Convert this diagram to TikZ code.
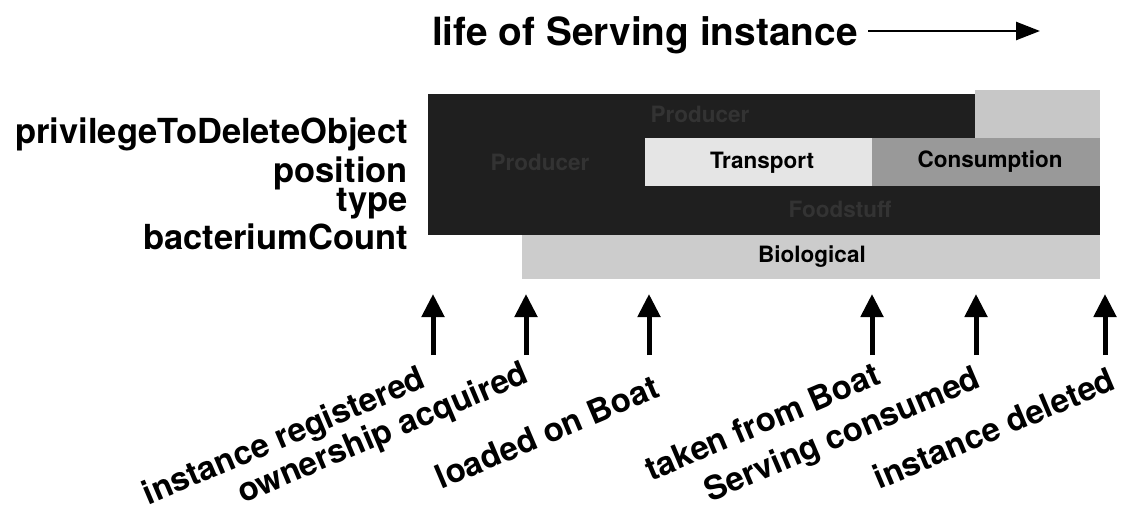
\documentclass[tikz,border=0pt]{standalone}
\usepackage{fontspec}
\setmainfont{TeX Gyre Heros}
\usetikzlibrary{arrows.meta}

\tikzset{
  rowlabel/.style={anchor=base east, inner sep=0pt, font=\fontsize{34.5}{40}\selectfont\bfseries},
  bandlabel/.style={inner sep=0pt, font=\fontsize{22.5}{26}\selectfont\bfseries},
  faintlabel/.style={bandlabel, text=black!80},
  eventlabel/.style={anchor=north east, inner sep=0pt, rotate=23, font=\fontsize{33}{38}\selectfont\bfseries},
  eventarrow/.style={line width=5pt, -{Triangle[length=23pt,width=22pt]}},
  darkband/.style={fill=black!88},
}

\begin{document}
\begin{tikzpicture}[x=1pt,y=-1pt]
      \useasboundingbox (0,0) rectangle (1121,514);
      % title with time arrow
      \node[anchor=base west, inner sep=0pt, font=\fontsize{38.8}{44}\selectfont\bfseries]
        (title) at (432,45) {life of Serving instance};
      \coordinate (t0) at (868,31);
      \coordinate (t1) at (1040,31);
      \draw[line width=2.5pt, -{Triangle[length=24pt,width=18pt]}] (t0) -- (t1);
      % bands
      \fill[darkband] (428,94) rectangle (975,138);
      \fill[black!22] (975,90) rectangle (1100,138);
      \fill[darkband] (428,138) rectangle (645,235);
      \fill[black!10] (645,138) rectangle (872,186);
      \fill[black!40] (872,138) rectangle (1100,186);
      \fill[darkband] (645,186) rectangle (1100,235);
      \fill[black!20] (522,235) rectangle (1100,279);
      \node[faintlabel] (prodtop) at (700,114) {Producer};
      \node[faintlabel] (prodleft) at (540,162) {Producer};
      \node[faintlabel] (food) at (840,209) {Foodstuff};
      \node[bandlabel] (transport) at (762,163) {Transport};
      \node[bandlabel] (consumption) at (990,162) {Consumption};
      \node[bandlabel] (biological) at (812,257) {Biological};
      % attribute names
      \node[rowlabel] (priv) at (408,143) {privilegeToDeleteObject};
      \node[rowlabel] (pos) at (408,182) {position};
      \node[rowlabel] (type) at (408,211) {type};
      \node[rowlabel] (bact) at (408,249) {bacteriumCount};
      % events
      \coordinate (e1b) at (433,355); \coordinate (e1t) at (433,294);
      \coordinate (e2b) at (526,355); \coordinate (e2t) at (526,294);
      \coordinate (e3b) at (649,355); \coordinate (e3t) at (649,294);
      \coordinate (e4b) at (872,355); \coordinate (e4t) at (872,294);
      \coordinate (e5b) at (976,355); \coordinate (e5t) at (976,294);
      \coordinate (e6b) at (1105,355); \coordinate (e6t) at (1105,294);
      \draw[eventarrow] (e1b) -- (e1t);
      \draw[eventarrow] (e2b) -- (e2t);
      \draw[eventarrow] (e3b) -- (e3t);
      \draw[eventarrow] (e4b) -- (e4t);
      \draw[eventarrow] (e5b) -- (e5t);
      \draw[eventarrow] (e6b) -- (e6t);
      \node[eventlabel] (ev1) at (418,364) {instance registered};
      \node[eventlabel] (ev2) at (521,359) {ownership acquired};
      \node[eventlabel] (ev3) at (652,374) {loaded on Boat};
      \node[eventlabel] (ev4) at (873,361) {taken from Boat};
      \node[eventlabel] (ev5) at (973,364) {Serving consumed};
      \node[eventlabel] (ev6) at (1108,366) {instance deleted};
\end{tikzpicture}
\end{document}
